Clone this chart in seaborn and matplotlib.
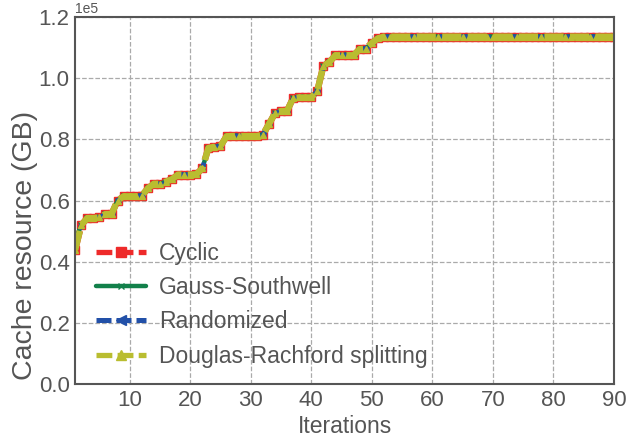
import numpy as np
import pandas as pd
import matplotlib
matplotlib.use("Agg")
import matplotlib.pyplot as plt
import seaborn as sns

iterations = list(range(1, 91))
base = [0.44, 0.52, 0.543, 0.543, 0.545, 0.556, 0.556, 0.60, 0.614, 0.614,
        0.614, 0.616, 0.64, 0.655, 0.655, 0.662, 0.67, 0.685, 0.685, 0.685,
        0.686, 0.705, 0.772, 0.776, 0.778, 0.81, 0.811, 0.811, 0.811, 0.811,
        0.811, 0.815, 0.85, 0.885, 0.893, 0.893, 0.935, 0.937, 0.937, 0.937,
        0.958, 1.04, 1.053, 1.075, 1.075, 1.075, 1.075, 1.095, 1.097, 1.115,
        1.13] + [1.136] * 39
cyclic = list(base)
gauss_southwell = [0.47] + base[1:]
randomized = [0.45] + base[1:]
douglas_rachford = list(base)

labels = ["Cyclic", "Gauss-Southwell", "Randomized", "Douglas-Rachford splitting"]
colors = ["#ee2a2a", "#12804a", "#2250a8", "#b9bd30"]
markers = ["s", "x", "<", "^"]
msizes = [5.5, 4.5, 3.5, 5]
leg_msizes = [6.5, 5, 6.5, 6.5]
dashes = [(3, 1), "", (3, 1), (3, 1)]
widths = [4.6, 3.2, 3.2, 4.6]
leg_widths = [3.8, 3.2, 3.6, 3.8]
series = [cyclic, gauss_southwell, randomized, douglas_rachford]

sns.set_theme(style="whitegrid")
plt.rcParams['font.family'] = ['Liberation Sans', 'DejaVu Sans']
txt = "#555555"
plt.rcParams.update({"text.color": txt, "axes.labelcolor": txt,
                     "xtick.color": txt, "ytick.color": txt})

fig = plt.figure(figsize=(6.27, 4.37), dpi=100)
ax = fig.add_axes([0.120, 0.121, 0.859, 0.840])

for lab, vals, c, m, ms, d, w in zip(labels, series, colors, markers, msizes,
                                     dashes, widths):
    df = pd.DataFrame({"it": iterations, "v": [v * 1e5 for v in vals]})
    ls = "-" if d == "" else (0, d)
    sns.lineplot(data=df, x="it", y="v", ax=ax, color=c, lw=w, linestyle=ls,
                 marker=m, markersize=ms, markeredgecolor=c, markeredgewidth=1.0,
                 label=lab)

ax.set_xlim(1, 90)
ax.set_ylim(0, 1.2e5)
ax.set_xticks(range(10, 91, 10))
ax.set_yticks(np.arange(0, 1.21e5, 0.2e5))
ax.ticklabel_format(axis="y", style="sci", scilimits=(0, 0))
ax.yaxis.get_offset_text().set_fontsize(10)
ax.tick_params(labelsize=16, length=0, pad=4)
ax.set_xlabel("Iterations", fontsize=16.5, labelpad=3)
ax.set_ylabel("Cache resource (GB)", fontsize=20.5)
ax.yaxis.set_label_coords(-0.07, 0.378)
ax.grid(True, linestyle="--", color="#aaaaaa", linewidth=0.9)
for s in ax.spines.values():
    s.set_color("#555555")
    s.set_linewidth(1.5)

leg = ax.legend(loc="lower left", bbox_to_anchor=(0.0, -0.012), frameon=False,
                fontsize=16.5, handlelength=2.2, labelspacing=0.5,
                handletextpad=0.55)
for h, ms, lw in zip(leg.legend_handles, leg_msizes, leg_widths):
    h.set_markersize(ms)
    h.set_linewidth(lw)
for t in leg.get_texts():
    t.set_color(txt)

fig.savefig("out.png", dpi=100)
